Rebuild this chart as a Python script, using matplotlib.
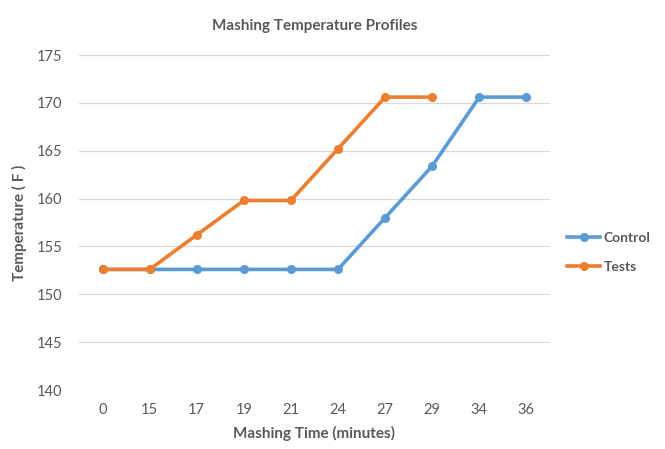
#!/usr/bin/env python3
"""Mashing temperature profiles - Excel style line chart"""
import numpy as np, matplotlib
matplotlib.use('Agg')
import matplotlib.pyplot as plt

# ── data ──
times = ['0', '15', '17', '19', '21', '24', '27', '29', '34', '36']
control = [152.6, 152.6, 152.6, 152.6, 152.6, 152.6, 158.0, 163.4, 170.6, 170.6]
tests = [152.6, 152.6, 156.2, 159.8, 159.8, 165.2, 170.6, 170.6, np.nan, np.nan]

plt.rcParams['font.family'] = ['Lato', 'DejaVu Sans']
grey = '#595959'

fig = plt.figure(figsize=(6.65, 4.49), dpi=100)
ax = fig.add_axes([0.1188, 0.1314, 0.7082, 0.7461])

x = np.arange(len(times))
ax.plot(x, control, color='#5B9BD5', lw=2.6, marker='o', ms=5.5,
        label='Control', zorder=3)
ax.plot(x, tests, color='#ED7D31', lw=2.6, marker='o', ms=5.5,
        label='Tests', zorder=3)

ax.set_xlim(-0.5, len(times) - 0.5)
ax.set_ylim(140, 175)
ax.set_yticks(range(140, 176, 5))
ax.set_xticks(x)
ax.set_xticklabels(times)
ax.tick_params(length=0, labelsize=10.5, colors=grey, pad=9)
ax.tick_params(axis='y', pad=12)
for s in ax.spines.values():
    s.set_visible(False)
ax.grid(axis='y', color='#D9D9D9', lw=0.9, zorder=1)
ax.set_axisbelow(True)

ax.set_title('Mashing Temperature Profiles', fontsize=11,
             fontweight='bold', color=grey, pad=18)
ax.set_xlabel('Mashing Time (minutes)', fontsize=11,
              fontweight='bold', color=grey, labelpad=7)
ax.set_ylabel('Temperature ( F )', fontsize=11,
              fontweight='bold', color=grey, labelpad=7)

leg = ax.legend(loc='center left', bbox_to_anchor=(1.01, 0.41),
                frameon=False, fontsize=10, handlelength=2.4,
                handletextpad=0.2, labelspacing=1.2)
for t in leg.get_texts():
    t.set_color(grey)
    t.set_fontweight('bold')

plt.savefig('out.png', dpi=100)
